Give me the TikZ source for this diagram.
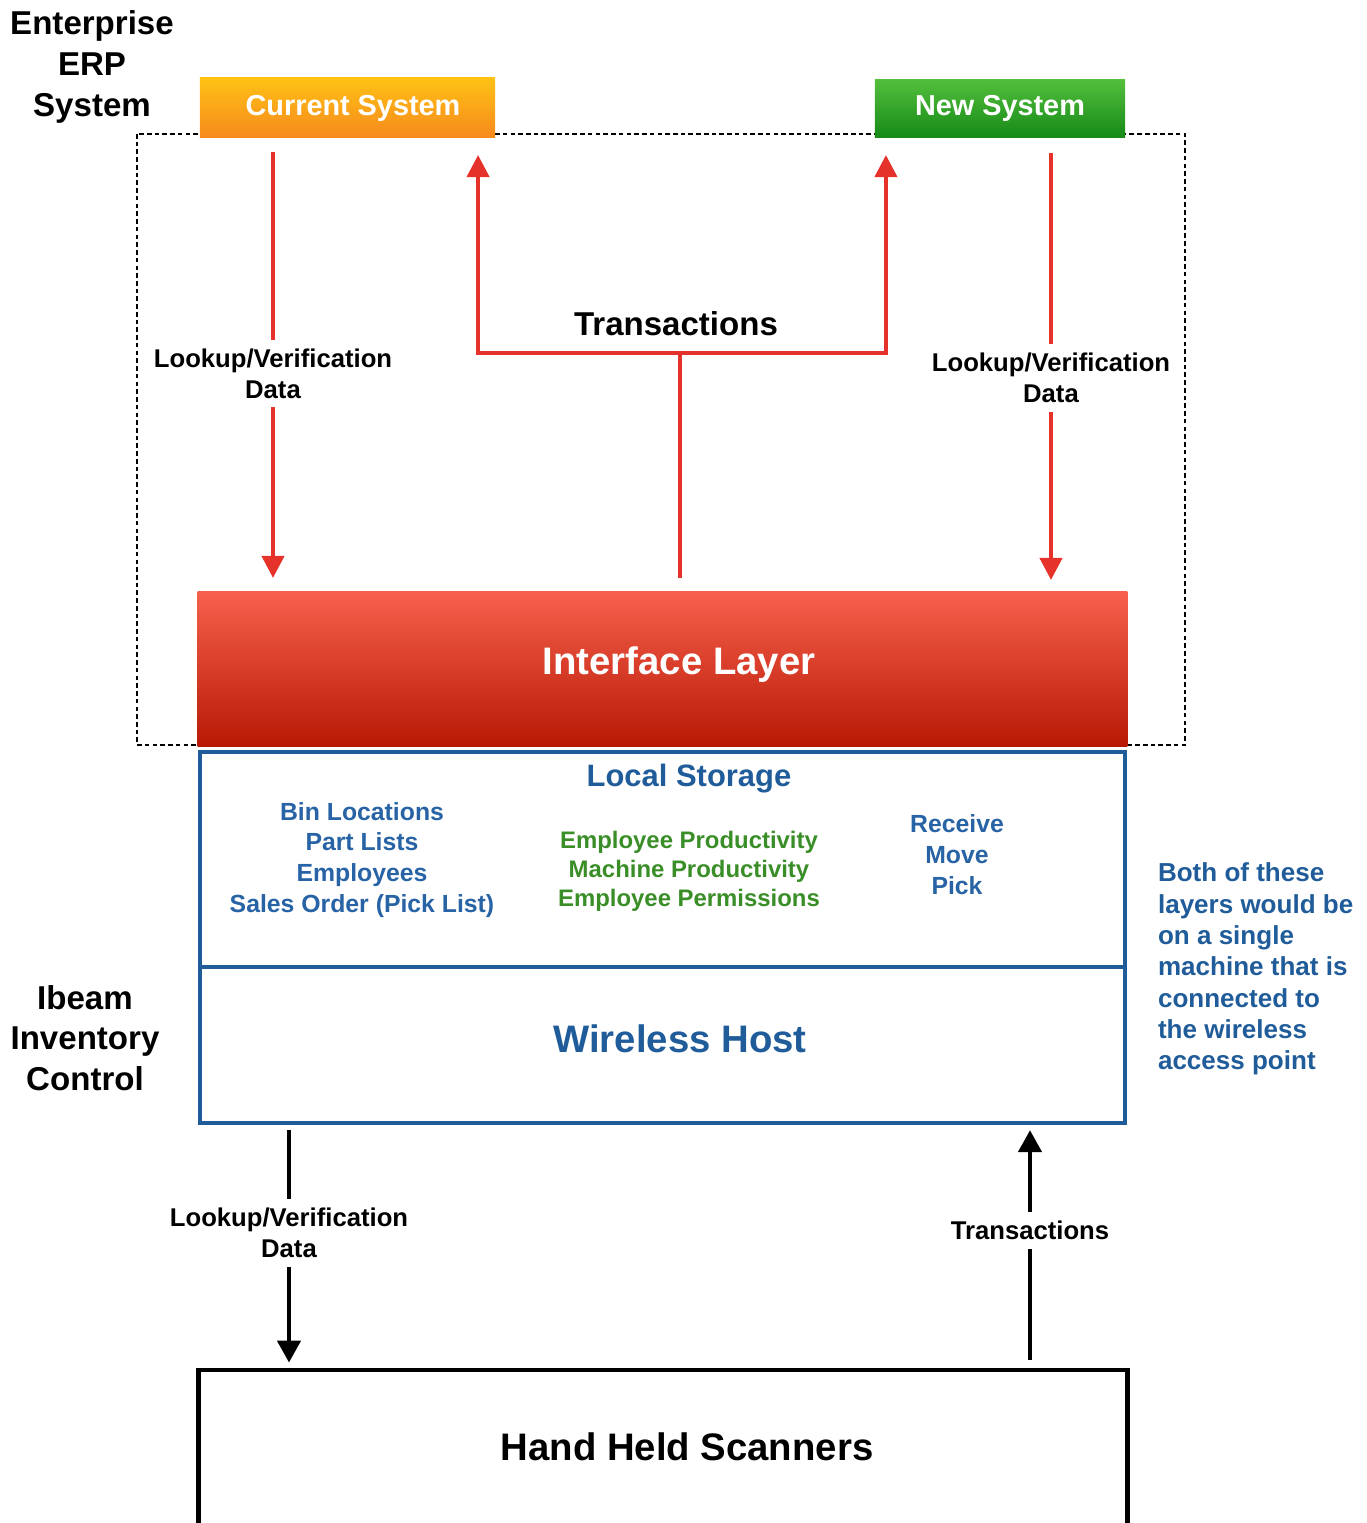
\documentclass[tikz,border=0pt]{standalone}
\usepackage{fontspec}
\setmainfont{Liberation Sans}
\usepackage{tikz}
\usetikzlibrary{arrows.meta,backgrounds}

\definecolor{sysyellow}{HTML}{FFC114}
\definecolor{sysorange}{HTML}{F68A1E}
\definecolor{sysgreen1}{HTML}{52BE3C}
\definecolor{sysgreen2}{HTML}{168A17}
\definecolor{ifred1}{HTML}{F6604C}
\definecolor{ifred2}{HTML}{B81905}
\definecolor{linkred}{HTML}{E5322A}
\definecolor{hostblue}{HTML}{1F5C99}
\definecolor{itemblue}{HTML}{2763A5}
\definecolor{itemgreen}{HTML}{3A8E27}

\begin{document}
\begin{tikzpicture}[x=0.01cm,y=-0.01cm,semithick]
        \tikzstyle{sysbox}=[
            rectangle,
            inner sep=0pt,
            outer sep=0pt,
            text=white,
            font=\bfseries\fontsize{8.2}{10}\selectfont
        ]
        \tikzstyle{bluebox}=[
            rectangle,
            draw=hostblue,
            line width=1.15pt,
            inner sep=0pt,
            outer sep=0pt
        ]
        \tikzstyle{bigtext}=[inner sep=0pt, font=\bfseries\fontsize{10.9}{13}\selectfont]
        \tikzstyle{sidetext}=[align=center, inner sep=0pt, font=\bfseries\fontsize{9.4}{11.6}\selectfont]
        \tikzstyle{lbl}=[align=center, fill=white, inner sep=2.5pt, font=\bfseries\fontsize{7.3}{8.8}\selectfont]
        \tikzstyle{itemtext}=[align=center, inner sep=0pt, text=itemblue, font=\bfseries\fontsize{7.05}{8.8}\selectfont]
        \tikzstyle{redline}=[draw=linkred, line width=1.15pt]
        \tikzstyle{redarrow}=[redline, -{Triangle[width=6.3pt,length=6.3pt]}]
        \tikzstyle{blackarrow}=[draw=black, line width=1.4pt, -{Triangle[width=6.5pt,length=6.3pt]}]

        \useasboundingbox (0,0) rectangle (1367,1523);
        \clip (0,0) rectangle (1367,1523);

        % ERP part
        \draw[line width=0.6pt, dash pattern=on 1.3pt off 0.9pt] (137,134) rectangle (1185,745);
        \node[sidetext] (erp) at (92,67) {Enterprise\\ERP\\System};
        \node[sysbox, minimum width=2.95cm, minimum height=0.59cm,
              top color=sysyellow, bottom color=sysorange] (cur) at (347.5,107.5) {};
        \node[sysbox] (curtext) at (353,108) {Current System};
        \node[sysbox, minimum width=2.5cm, minimum height=0.57cm,
              top color=sysgreen1, bottom color=sysgreen2] (new) at (1000,108.5) {New System};
        \node[sysbox, minimum width=9.29cm, minimum height=1.54cm,
              top color=ifred1, bottom color=ifred2] (iface) at (662.5,669) {};
        \node[bigtext, text=white] (ifacetext) at (679,665) {Interface Layer};

        % Ibeam part
        \node[sidetext] (ibeam) at (85,1038) {Ibeam\\Inventory\\Control};
        \node[bluebox, minimum width=9.25cm, minimum height=2.15cm] (store) at (662.5,859.5) {};
        \node[bluebox, minimum width=9.25cm, minimum height=1.56cm] (host) at (662.5,1045) {};
        \node[bigtext, text=hostblue] (hosttext) at (680,1039) {Wireless Host};
        \node[text=hostblue, inner sep=0pt, font=\bfseries\fontsize{8.8}{10}\selectfont] (title) at (689,779) {Local Storage};
        \node[itemtext] (lists) at (362,860) {Bin Locations\\Part Lists\\Employees\\Sales Order (Pick List)};
        \node[itemtext, text=itemgreen, font=\bfseries\fontsize{6.8}{8.25}\selectfont] (stats) at (689,871) {Employee Productivity\\Machine Productivity\\Employee Permissions};
        \node[itemtext] (moves) at (957,855) {Receive\\Move\\Pick};
        \node[itemtext, align=left, anchor=west, text=hostblue,
              font=\bfseries\fontsize{7.4}{8.9}\selectfont] (note) at (1157,969) {Both of these\\layers would be\\on a single\\machine that is\\connected to\\the wireless\\access point};

        \node[rectangle, draw=black, line width=1.3pt, minimum width=9.28cm, minimum height=1.6cm] (scan) at (663,1450) {};
        \node[bigtext] (scantext) at (687,1447) {Hand Held Scanners};

        % connectors
        \coordinate (lcol) at (273,0);
        \coordinate (rcol) at (1051,0);
        \coordinate (split) at (680,353);
        \coordinate (dcol) at (289,0);
        \coordinate (ucol) at (1030,0);

        \draw[redarrow, shorten <=0.15cm, shorten >=0.14cm] (cur.south -| lcol) -- node[lbl, pos=0.52]{Lookup/Verification\\Data} (iface.north -| lcol);
        \draw[redarrow, shorten <=0.16cm, shorten >=0.12cm] (new.south -| rcol) -- node[lbl, pos=0.53]{Lookup/Verification\\Data} (iface.north -| rcol);

        \draw[redline, shorten <=0.14cm] (iface.north -| split) -- (split);
        \draw[redarrow, shorten >=0.18cm] (split) -| ([xshift=-0.17cm]cur.south east);
        \draw[redarrow, shorten >=0.18cm] (split) -| ([xshift=0.11cm]new.south west);
        \node[inner sep=0pt, font=\bfseries\fontsize{9.4}{11}\selectfont] (trans) at (676,324) {Transactions};

        \draw[blackarrow, shorten <=0.07cm, shorten >=0.05cm] (host.south -| dcol) -- node[lbl, pos=0.45]{Lookup/Verification\\Data} (scan.north -| dcol);
        \draw[blackarrow, shorten <=0.08cm, shorten >=0.07cm] (scan.north -| ucol) -- node[lbl, pos=0.56]{Transactions} (host.south -| ucol);

    \end{tikzpicture}
\end{document}
